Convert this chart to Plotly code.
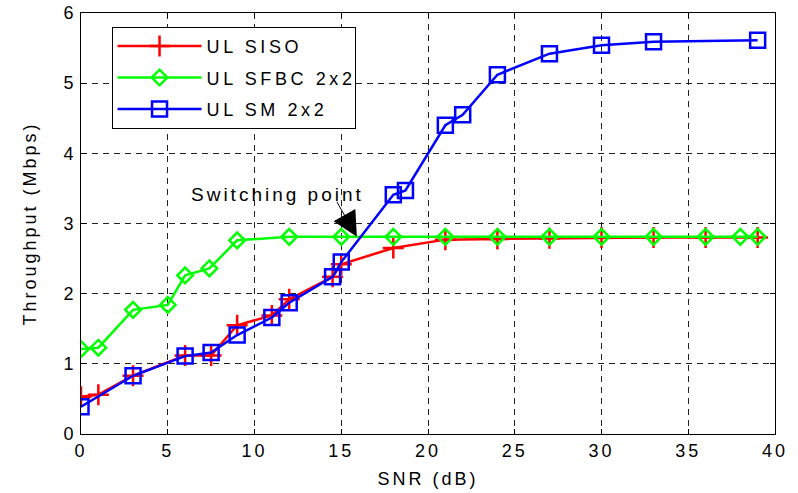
import plotly.graph_objects as go

# ---- data ----
siso_x = [0, 1, 3, 6, 7.5, 9, 11, 12, 14.5, 15, 18, 21, 24, 27, 30, 33, 36, 39]
siso_y = [0.53, 0.56, 0.83, 1.12, 1.12, 1.55, 1.69, 1.92, 2.24, 2.42, 2.65, 2.77, 2.78, 2.79, 2.80, 2.80, 2.80, 2.80]

sfbc_x = [0, 1, 3, 5, 6, 7.4, 9, 12, 15, 18, 21, 24, 27, 30, 33, 36, 38, 39]
sfbc_y = [1.21, 1.23, 1.77, 1.84, 2.26, 2.36, 2.76, 2.81, 2.81, 2.81, 2.81, 2.81, 2.81, 2.81, 2.81, 2.81, 2.81, 2.81]

sm_x = [0, 3, 6, 7.5, 9, 11, 12, 14.5, 15, 18, 18.7, 21, 22, 24, 27, 30, 33, 39]
sm_y = [0.39, 0.83, 1.11, 1.16, 1.41, 1.66, 1.87, 2.24, 2.45, 3.41, 3.47, 4.40, 4.55, 5.12, 5.42, 5.54, 5.59, 5.61]

series_names = ["UL SISO", "UL SFBC 2x2", "UL SM 2x2"]
x_ticks = [0, 5, 10, 15, 20, 25, 30, 35, 40]
y_ticks = [0, 1, 2, 3, 4, 5, 6]

switch_x, switch_y = 15.9, 2.81
label_x, label_y = 11.3, 3.42
arrow_tail_x, arrow_tail_y = 14.7, 3.33

FONT = "Liberation Sans, Arial, sans-serif"

fig = go.Figure()
fig.add_trace(go.Scatter(
    x=siso_x, y=siso_y, name=series_names[0], mode="lines+markers", legendgroup="g1",
    line=dict(color="#ff0000", width=2.5),
    marker=dict(symbol="cross-thin", size=15, line=dict(color="#ff0000", width=2.5)),
))
fig.add_trace(go.Scatter(
    x=sfbc_x, y=sfbc_y, name=series_names[1], mode="lines+markers", legendgroup="g2",
    line=dict(color="#00ff00", width=2.5),
    marker=dict(symbol="diamond-open", size=12, color="#00ff00", line=dict(color="#00ff00", width=2.5)),
))
fig.add_trace(go.Scatter(
    x=sm_x, y=sm_y, name=series_names[2], mode="lines+markers", legendgroup="g3",
    line=dict(color="#0000ff", width=2.5),
    marker=dict(symbol="square-open", size=15, color="#0000ff", line=dict(color="#0000ff", width=2.5)),
))

fig.add_annotation(x=label_x, y=label_y, text="Switching point", showarrow=False,
                   font=dict(family=FONT, size=19, color="black"))
fig.add_annotation(x=switch_x, y=switch_y, ax=arrow_tail_x, ay=arrow_tail_y,
                   axref="x", ayref="y", text="", showarrow=True,
                   arrowhead=2, arrowsize=5, arrowwidth=1, arrowcolor="black")

axis_common = dict(
    showline=True, linecolor="black", linewidth=1, mirror="ticks",
    ticks="inside", ticklen=5, tickcolor="black", automargin=False,
    showgrid=True, gridcolor="#222222", gridwidth=1, griddash="6px,5px",
    zeroline=False, tickfont=dict(family=FONT, size=18, color="black"),
)

fig.update_xaxes(range=[0, 40], tickvals=x_ticks,
                 title=dict(text="SNR (dB)", font=dict(family=FONT, size=18, color="black"), standoff=12),
                 **axis_common)
fig.update_yaxes(range=[0, 6], tickvals=y_ticks,
                 title=dict(text="Throughput (Mbps)", font=dict(family=FONT, size=18, color="black"), standoff=22),
                 **axis_common)

fig.update_layout(
    width=798, height=493,
    margin=dict(l=81, r=23, t=13, b=59),
    paper_bgcolor="white", plot_bgcolor="white",
    font=dict(family=FONT, size=18, color="black"),
    legend=dict(x=0.044, y=0.967, xanchor="left", yanchor="top",
                bgcolor="white", bordercolor="black", borderwidth=1,
                font=dict(family=FONT, size=18, color="black"),
                itemwidth=84, tracegroupgap=5),
    showlegend=True,
)

# Re-render with letter-spaced text (as in the original export); the font
# string is shortened so cached text measurements are recomputed.
post = """
var st = document.createElement('style');
st.textContent = 'svg text { letter-spacing: 3px; } svg .legend text { letter-spacing: 3.6px; }';
document.head.appendChild(st);
var gd = document.getElementById('{plot_id}');
var d = JSON.parse(JSON.stringify(gd.data).split('Liberation Sans, Arial, sans-serif').join('Liberation Sans, Arial'));
var l = JSON.parse(JSON.stringify(gd.layout).split('Liberation Sans, Arial, sans-serif').join('Liberation Sans, Arial'));
Plotly.newPlot(gd, d, l, gd._context);
"""

fig.write_html("out.html", post_script=post)
